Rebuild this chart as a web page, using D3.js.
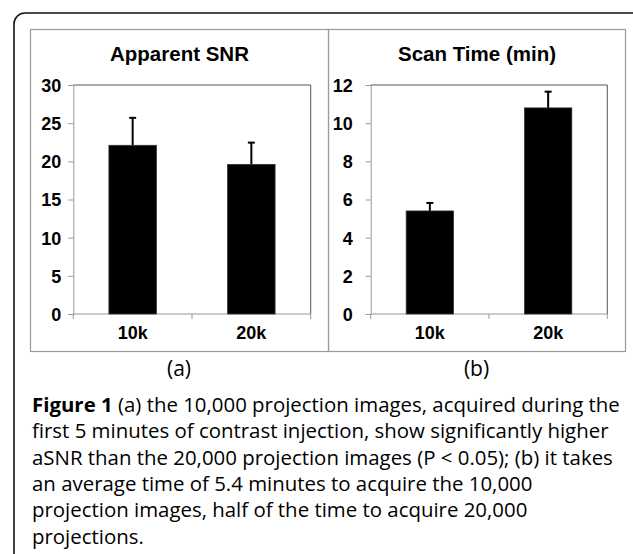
<!DOCTYPE html>
<html>
<head>
<meta charset="utf-8">
<script src="https://cdn.jsdelivr.net/npm/d3@7"></script>
<style>
  body { margin: 0; background: #fff; }
  svg { display: block; }
  .tick text { font-family: "Liberation Sans", Arial, sans-serif; font-weight: bold; fill: #000; }
</style>
</head>
<body>
<div id="chart"></div>
<script>
// Figure 1: apparent SNR and scan time, 10k vs 20k projections

var categories = ["10k", "20k"];
var snrMeans = [22.1, 19.6];
var snrErrors = [3.6, 2.85];
var timeMeans = [5.4, 10.8];
var timeErrors = [0.42, 0.85];
var snrTicks = [0, 5, 10, 15, 20, 25, 30];
var timeTicks = [0, 2, 4, 6, 8, 10, 12];
var captionLines = [
    "(a) the 10,000 projection images, acquired during the",
    "first 5 minutes of contrast injection, show significantly higher",
    "aSNR than the 20,000 projection images (P < 0.05); (b) it takes",
    "an average time of 5.4 minutes to acquire the 10,000",
    "projection images, half of the time to acquire 20,000",
    "projections."
];

var svgWidth = 633;
var svgHeight = 554;

var svg = d3.select("#chart")
    .append("svg")
    .attr("width", svgWidth)
    .attr("height", svgHeight);

// outer rounded frame (runs off the bottom)
svg.append("rect")
    .attr("x", 14).attr("y", 13)
    .attr("width", 640).attr("height", 580)
    .attr("rx", 11)
    .attr("fill", "none")
    .attr("stroke", "#111")
    .attr("stroke-width", 1.6);

var panels = [
    {title: "Apparent SNR", label: "(a)", means: snrMeans, errors: snrErrors, ticks: snrTicks,
     box: [30, 328], plot: {left: 73.3, right: 310.7}, pad: 7},
    {title: "Scan Time (min)", label: "(b)", means: timeMeans, errors: timeErrors, ticks: timeTicks,
     box: [328, 625], plot: {left: 370.7, right: 607.3}, pad: 13}
];

var plotTop = 85;
var plotBottom = 314;

panels.forEach(function(p) {
    // gray panel frame
    svg.append("rect")
        .attr("x", p.box[0] + 0.5).attr("y", 29.5)
        .attr("width", p.box[1] - p.box[0]).attr("height", 322)
        .attr("fill", "none")
        .attr("stroke", "#9a9a9a")
        .attr("stroke-width", 1.2);

    svg.append("text")
        .attr("x", (p.box[0] + p.box[1]) / 2 + 0.5)
        .attr("y", 61)
        .attr("text-anchor", "middle")
        .style("font-family", "'Liberation Sans', Arial, sans-serif")
        .style("font-weight", "bold")
        .style("font-size", "20.5px")
        .attr("fill", "#000")
        .text(p.title);

    var xScale = d3.scaleBand()
        .domain(categories)
        .range([p.plot.left, p.plot.right])
        .paddingInner(0.6)
        .paddingOuter(0.3);

    var yScale = d3.scaleLinear()
        .domain([0, d3.max(p.ticks)])
        .range([plotBottom, plotTop]);

    // plot area border (top and right)
    svg.append("path")
        .attr("d", "M" + p.plot.left + "," + plotTop + "H" + p.plot.right + "V" + plotBottom)
        .attr("fill", "none")
        .attr("stroke", "#555")
        .attr("stroke-width", 1);

    var yAxis = d3.axisLeft(yScale)
        .tickValues(p.ticks)
        .tickSize(5)
        .tickPadding(p.pad);

    var gy = svg.append("g")
        .attr("transform", "translate(" + p.plot.left + ",0)")
        .call(yAxis);
    gy.select(".domain").attr("stroke", "#999");
    gy.selectAll(".tick line").attr("stroke", "#999");
    gy.selectAll(".tick text").style("font-size", "18px").attr("dy", "0.36em");

    // x axis: ticks at band boundaries
    var bounds = [p.plot.left, (p.plot.left + p.plot.right) / 2, p.plot.right];
    var gx = svg.append("g");
    gx.append("line")
        .attr("x1", p.plot.left).attr("x2", p.plot.right)
        .attr("y1", plotBottom).attr("y2", plotBottom)
        .attr("stroke", "#999");
    gx.selectAll(".xt")
        .data(bounds)
        .enter()
        .append("line")
        .attr("x1", d => d).attr("x2", d => d)
        .attr("y1", plotBottom).attr("y2", plotBottom + 5)
        .attr("stroke", "#999");
    gx.selectAll("text")
        .data(categories)
        .enter()
        .append("text")
        .attr("x", d => xScale(d) + xScale.bandwidth() / 2)
        .attr("y", 339)
        .attr("text-anchor", "middle")
        .style("font-family", "'Liberation Sans', Arial, sans-serif")
        .style("font-weight", "bold")
        .style("font-size", "18px")
        .attr("fill", "#000")
        .text(d => d);

    var rows = categories.map(function(c, i) {
        return {cat: c, mean: p.means[i], err: p.errors[i]};
    });

    // error bars (upper only)
    svg.selectAll(null)
        .data(rows)
        .enter()
        .append("line")
        .attr("x1", d => xScale(d.cat) + xScale.bandwidth() / 2)
        .attr("x2", d => xScale(d.cat) + xScale.bandwidth() / 2)
        .attr("y1", d => yScale(d.mean))
        .attr("y2", d => yScale(d.mean + d.err))
        .attr("stroke", "#000")
        .attr("stroke-width", 2);
    svg.selectAll(null)
        .data(rows)
        .enter()
        .append("line")
        .attr("x1", d => xScale(d.cat) + xScale.bandwidth() / 2 - 3.5)
        .attr("x2", d => xScale(d.cat) + xScale.bandwidth() / 2 + 3.5)
        .attr("y1", d => yScale(d.mean + d.err))
        .attr("y2", d => yScale(d.mean + d.err))
        .attr("stroke", "#000")
        .attr("stroke-width", 2);

    svg.selectAll(null)
        .data(rows)
        .enter()
        .append("rect")
        .attr("x", d => xScale(d.cat))
        .attr("y", d => yScale(d.mean))
        .attr("width", xScale.bandwidth())
        .attr("height", d => plotBottom - yScale(d.mean))
        .attr("fill", "#000")
        .attr("stroke", "#333")
        .attr("stroke-width", 0.8);

    svg.append("text")
        .attr("x", (p.box[0] + p.box[1]) / 2)
        .attr("y", 376)
        .attr("text-anchor", "middle")
        .style("font-family", "'Open Sans', 'Noto Sans', sans-serif")
        .style("font-size", "21px")
        .attr("fill", "#000")
        .text(p.label);
});

// caption
var caption = svg.append("g")
    .style("font-family", "'Open Sans', 'Noto Sans', sans-serif")
    .style("font-size", "17px")
    .attr("fill", "#000");

captionLines.forEach(function(line, i) {
    var t = caption.append("text")
        .attr("x", 32)
        .attr("y", 412 + i * 26.3);
    if (i === 0) {
        t.append("tspan").style("font-weight", "bold").text("Figure 1 ");
    }
    t.append("tspan").text(line);
});

// fit first caption line to the width seen in the figure
var firstWidth = caption.select("text").node().getComputedTextLength();
var fontSize = 17 * 588 / firstWidth;
caption.style("font-size", fontSize.toFixed(2) + "px");
</script>
</body>
</html>
